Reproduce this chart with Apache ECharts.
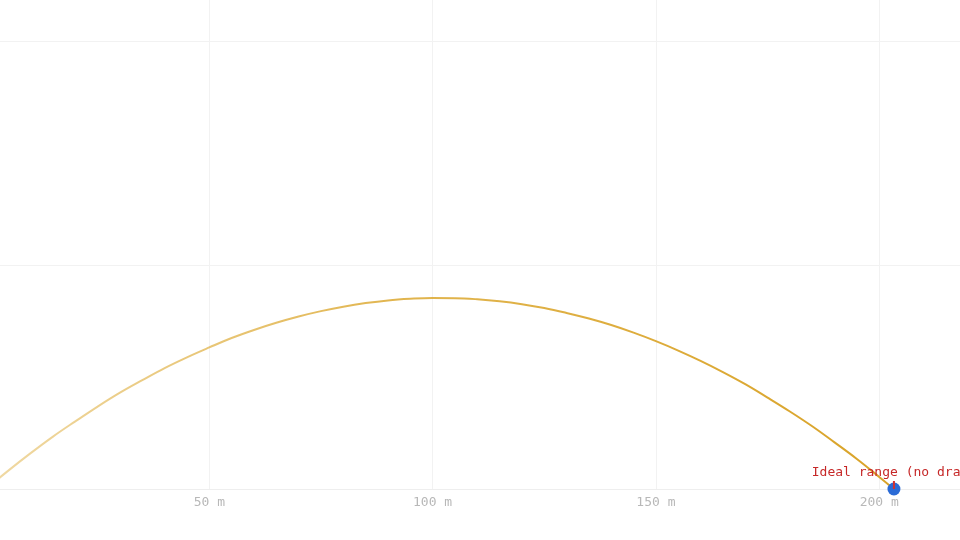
<!DOCTYPE html>
<html>
<head>
<meta charset="utf-8">
<style>
  html, body { margin: 0; padding: 0; background: #ffffff; }
  #chart { width: 960px; height: 540px; }
</style>
<script src="https://cdn.jsdelivr.net/npm/echarts@6/dist/echarts.min.js"></script>
</head>
<body>
<div id="chart"></div>
<script>
// Trajectory: distance (m), height (m)
const distances = [0, 5, 10, 15, 20, 25, 30, 35, 40, 45, 50, 55, 60, 65, 70, 75, 80, 85, 90, 95, 100,
                   105, 110, 115, 120, 125, 130, 135, 140, 145, 150, 155, 160, 165, 170, 175, 180, 185, 190, 195, 200, 203.3];
const heights   = [0, 4.1, 8.0, 11.7, 15.1, 18.4, 21.5, 24.3, 27.0, 29.4, 31.6, 33.7, 35.5, 37.1, 38.5, 39.7, 40.7, 41.5, 42.1, 42.45, 42.63,
                   42.6, 42.35, 41.9, 41.25, 40.4, 39.3, 38.05, 36.6, 34.9, 33.0, 30.9, 28.6, 26.1, 23.4, 20.4, 17.3, 14.0, 10.4, 6.7, 2.7, 0];
const landingPoint = [203.3, 0];
const landingLabel = 'Ideal range (no drag)';
const xTickUnit = ' m';

const chart = echarts.init(document.getElementById('chart'), null, { renderer: 'canvas' });
const mono = '"DejaVu Sans Mono", "Liberation Mono", monospace';

chart.setOption({
  animation: false,
  backgroundColor: '#ffffff',
  grid: { left: -14, width: 1116.5, top: -183, bottom: 51, containLabel: false, outerBoundsMode: 'none' },
  xAxis: {
    type: 'value', min: 0, max: 250, interval: 50,
    axisLine: { show: true, lineStyle: { color: '#eeeeee', width: 1 } },
    axisTick: { show: false },
    splitLine: { show: true, lineStyle: { color: '#f2f2f2', width: 1 } },
    axisLabel: {
      color: '#b8b8b8', fontFamily: mono, fontSize: 13, margin: 7,
      formatter: v => v + xTickUnit
    }
  },
  yAxis: {
    type: 'value', min: 0, max: 150, interval: 50,
    axisLine: { show: false }, axisTick: { show: false },
    axisLabel: { show: false },
    splitLine: { show: true, lineStyle: { color: '#f2f2f2', width: 1 } }
  },
  series: [
    {
      type: 'line',
      data: distances.map((d, i) => [d, heights[i]]),
      smooth: 0.4,
      showSymbol: false,
      lineStyle: {
        width: 2,
        color: new echarts.graphic.LinearGradient(0, 0, 1, 0, [
          { offset: 0, color: 'rgba(222,172,56,0.45)' },
          { offset: 0.45, color: 'rgba(220,168,48,0.85)' },
          { offset: 1, color: 'rgba(217,163,40,1)' }
        ])
      },
      z: 2
    },
    {
      type: 'scatter',
      data: [landingPoint],
      symbol: 'circle',
      symbolSize: 13,
      itemStyle: { color: '#2b6bd6', opacity: 1 },
      label: {
        show: true, position: 'top', distance: 3,
        formatter: landingLabel,
        color: '#c62828', fontFamily: mono, fontSize: 13
      },
      z: 3
    },
    {
      type: 'scatter',
      data: [landingPoint],
      symbol: 'rect',
      symbolSize: [2, 8],
      symbolOffset: [0, -4],
      itemStyle: { color: '#d32f2f', opacity: 1 },
      z: 4
    }
  ]
});
</script>
</body>
</html>
